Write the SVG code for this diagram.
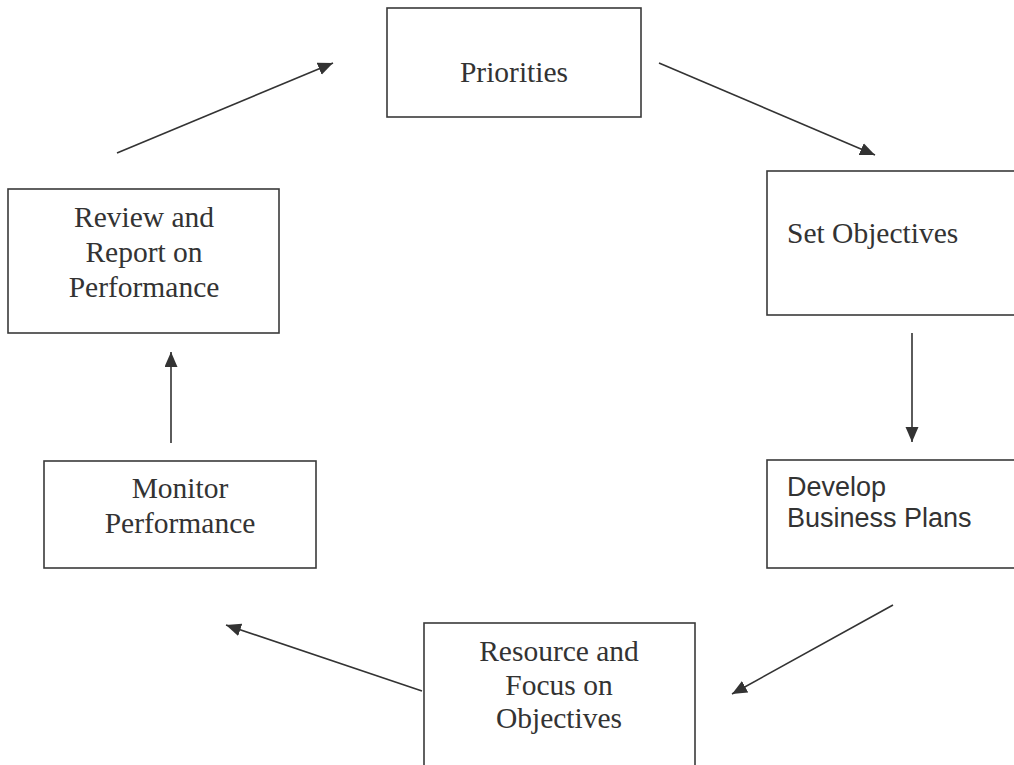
<svg xmlns="http://www.w3.org/2000/svg" width="1014" height="765" viewBox="0 0 1014 765">
<defs>
<style>
.box{fill:#fff;stroke:#3a3a3a;stroke-width:1.6}
.t{font-family:"Liberation Serif","Times New Roman",serif;font-size:29.5px;fill:#333}
.s{font-family:"Liberation Sans",Arial,sans-serif;font-size:27px;fill:#333}
.c{text-anchor:middle}
.ln{stroke:#333;stroke-width:1.6;fill:none;marker-end:url(#ah)}
</style>
<marker id="ah" markerUnits="userSpaceOnUse" markerWidth="16" markerHeight="14" refX="15" refY="6.5" orient="auto">
<path d="M0,0 L15,6.5 L0,13 z" fill="#333"/>
</marker>
</defs>
<rect width="1014" height="765" fill="#fff"/>
<g id="connectors">
<line class="ln" x1="117" y1="153" x2="333" y2="63"/>
<line class="ln" x1="659" y1="63" x2="875" y2="155"/>
<line class="ln" x1="912" y1="333" x2="912" y2="442"/>
<line class="ln" x1="893" y1="605" x2="732" y2="694"/>
<line class="ln" x1="422" y1="691" x2="226" y2="625"/>
<line class="ln" x1="171" y1="443" x2="171" y2="352"/>
</g>
<g id="priorities">
<rect class="box" x="387" y="8" width="254" height="109"/>
<text class="t c" x="514" y="82">Priorities</text>
</g>
<g id="set-objectives">
<rect class="box" x="767" y="171" width="260" height="144"/>
<text class="t" x="787" y="243">Set Objectives</text>
</g>
<g id="develop">
<rect class="box" x="767" y="460" width="260" height="108"/>
<text class="s" x="787" y="496">Develop</text>
<text class="s" x="787" y="527">Business Plans</text>
</g>
<g id="resource">
<rect class="box" x="424" y="623" width="271" height="160"/>
<text class="t c" x="559" y="661">Resource and</text>
<text class="t c" x="559" y="695">Focus on</text>
<text class="t c" x="559" y="728">Objectives</text>
</g>
<g id="monitor">
<rect class="box" x="44" y="461" width="272" height="107"/>
<text class="t c" x="180" y="498">Monitor</text>
<text class="t c" x="180" y="533">Performance</text>
</g>
<g id="review">
<rect class="box" x="8" y="189" width="271" height="144"/>
<text class="t c" x="144" y="227">Review and</text>
<text class="t c" x="144" y="262">Report on</text>
<text class="t c" x="144" y="297">Performance</text>
</g>
</svg>
